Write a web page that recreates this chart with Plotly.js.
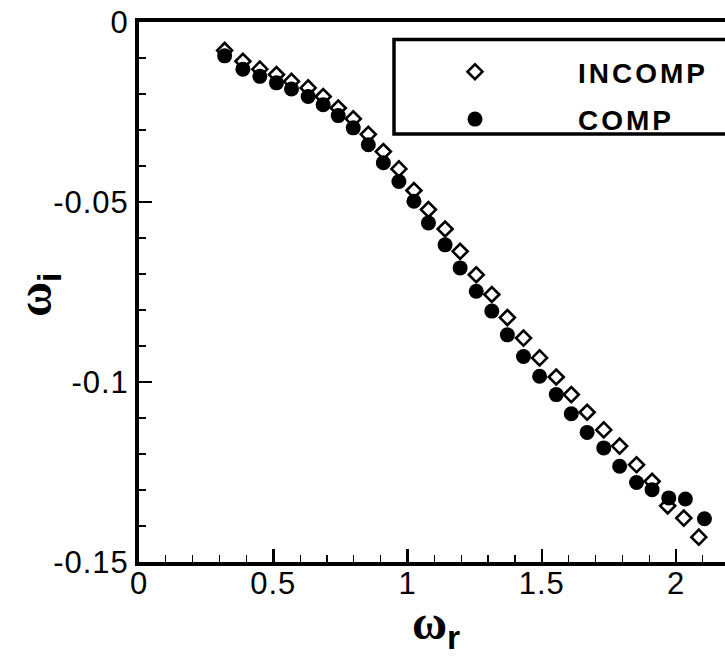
<!DOCTYPE html>
<html>
<head>
<meta charset="utf-8">
<script src="https://cdn.plot.ly/plotly-3.0.1.min.js"></script>
<style>
  body { margin: 0; padding: 0; background: #fff; }
  #chart { width: 725px; height: 656px; }
  .xtick text, .ytick text { letter-spacing: 1px; }
  .legendtext { letter-spacing: 3px; }
</style>
</head>
<body>
<div id="chart"></div>
<script>
// INCOMP series (open diamonds)
const incompX = [0.319, 0.387, 0.450, 0.512, 0.568, 0.630, 0.686, 0.742, 0.798, 0.854,
                 0.910, 0.968, 1.024, 1.078, 1.140, 1.196, 1.256, 1.314, 1.372, 1.432,
                 1.492, 1.554, 1.610, 1.669, 1.731, 1.790, 1.853, 1.911, 1.969, 2.029, 2.085];
const incompY = [-0.0079, -0.0109, -0.0131, -0.0146, -0.0165, -0.0183, -0.0207, -0.0239, -0.0269, -0.0312,
                 -0.0360, -0.0408, -0.0468, -0.0521, -0.0575, -0.0637, -0.0702, -0.0757, -0.0821, -0.0878,
                 -0.0933, -0.0986, -0.1035, -0.1084, -0.1133, -0.1178, -0.1230, -0.1276, -0.1344, -0.1378, -0.1431];
// COMP series (filled circles)
const compX = [0.319, 0.387, 0.450, 0.512, 0.568, 0.630, 0.686, 0.742, 0.798, 0.854,
               0.910, 0.968, 1.024, 1.078, 1.140, 1.196, 1.256, 1.314, 1.372, 1.432,
               1.492, 1.554, 1.610, 1.669, 1.731, 1.790, 1.853, 1.911, 1.973, 2.035, 2.106];
const compY = [-0.0094, -0.0131, -0.0151, -0.0169, -0.0186, -0.0207, -0.0230, -0.0260, -0.0294, -0.0341,
               -0.0391, -0.0443, -0.0498, -0.0558, -0.0619, -0.0683, -0.0748, -0.0803, -0.0869, -0.0929,
               -0.0984, -0.1035, -0.1088, -0.1140, -0.1183, -0.1234, -0.1279, -0.1299, -0.1322, -0.1325, -0.1380];

const seriesNames = ['INCOMP', 'COMP'];
const xTickVals = [0, 0.5, 1, 1.5, 2];
const xTickText = ['0', '0.5', '1', '1.5', '2'];
const yTickVals = [0, -0.05, -0.1, -0.15];
const yTickText = ['0', '-0.05', '-0.1', '-0.15'];

const traces = [
  {
    x: incompX, y: incompY, name: seriesNames[0], type: 'scatter', mode: 'markers',
    legendgroup: 'a',
    marker: { symbol: 'diamond-open', size: 11.5, color: '#000', line: { width: 2.6, color: '#000' } }
  },
  {
    x: compX, y: compY, name: seriesNames[1], type: 'scatter', mode: 'markers',
    legendgroup: 'b',
    marker: { symbol: 'circle', size: 15, color: '#000', line: { width: 0 } }
  }
];

const tickFont = { family: 'Liberation Sans, Arial, sans-serif', size: 31, color: '#000' };

const layout = {
  width: 725, height: 656,
  margin: { l: 139, r: 0, t: 22, b: 94, autoexpand: false },
  paper_bgcolor: '#fff', plot_bgcolor: '#fff',
  showlegend: true,
  legend: {
    x: (372 - 139) / 586, xanchor: 'left',
    y: (562 - 47) / 540, yanchor: 'top',
    bgcolor: 'rgba(0,0,0,0)', borderwidth: 0,
    traceorder: 'grouped', tracegroupgap: 8,
    itemwidth: 196,
    font: { family: 'Liberation Sans, Arial, sans-serif', size: 28, color: '#000', weight: 'bold' }
  },
  xaxis: {
    range: [0, 586 / 268.5],
    tickmode: 'array', tickvals: xTickVals, ticktext: xTickText,
    ticks: 'inside', ticklen: 13, tickwidth: 2.5, tickcolor: '#000',
    minor: { dtick: 0.1, ticks: 'inside', ticklen: 7, tickwidth: 1.2, tickcolor: '#000' },
    showline: true, linewidth: 4, linecolor: '#000', mirror: true,
    showgrid: false, zeroline: false,
    ticklabelstandoff: -9,
    tickfont: tickFont
  },
  yaxis: {
    range: [-0.15, 0],
    tickmode: 'array', tickvals: yTickVals, ticktext: yTickText,
    ticks: 'inside', ticklen: 13, tickwidth: 2.5, tickcolor: '#000',
    minor: { dtick: 0.01, ticks: 'inside', ticklen: 7, tickwidth: 1.2, tickcolor: '#000' },
    showline: true, linewidth: 4, linecolor: '#000', mirror: false,
    showgrid: false, zeroline: false,
    ticklabelstandoff: 0,
    tickfont: tickFont
  },
  shapes: [
    {
      type: 'rect', xref: 'paper', yref: 'paper',
      x0: (394 - 139) / 586, x1: 1.1,
      y0: (562 - 134) / 540, y1: (562 - 39.5) / 540,
      line: { color: '#000', width: 3.5 }, fillcolor: 'rgba(0,0,0,0)'
    }
  ],
  annotations: [
    {
      xref: 'paper', yref: 'paper',
      x: (436 - 139) / 586, y: (562 - 626) / 540,
      xanchor: 'center', yanchor: 'middle', showarrow: false,
      text: '<b>ω</b><sub><span style="font-family:\'Liberation Sans\';font-weight:bold">r</span></sub>',
      font: { family: 'Liberation Serif, Times New Roman, serif', size: 48, color: '#000' }
    },
    {
      xref: 'paper', yref: 'paper',
      x: (38 - 139) / 586, y: (562 - 295) / 540,
      xanchor: 'center', yanchor: 'middle', showarrow: false, textangle: -90,
      text: '<b>ω</b><sub><span style="font-family:\'Liberation Sans\';font-weight:bold">i</span></sub>',
      font: { family: 'Liberation Serif, Times New Roman, serif', size: 48, color: '#000' }
    }
  ]
};

Plotly.newPlot('chart', traces, layout, { displayModeBar: false, staticPlot: true });
</script>
</body>
</html>
